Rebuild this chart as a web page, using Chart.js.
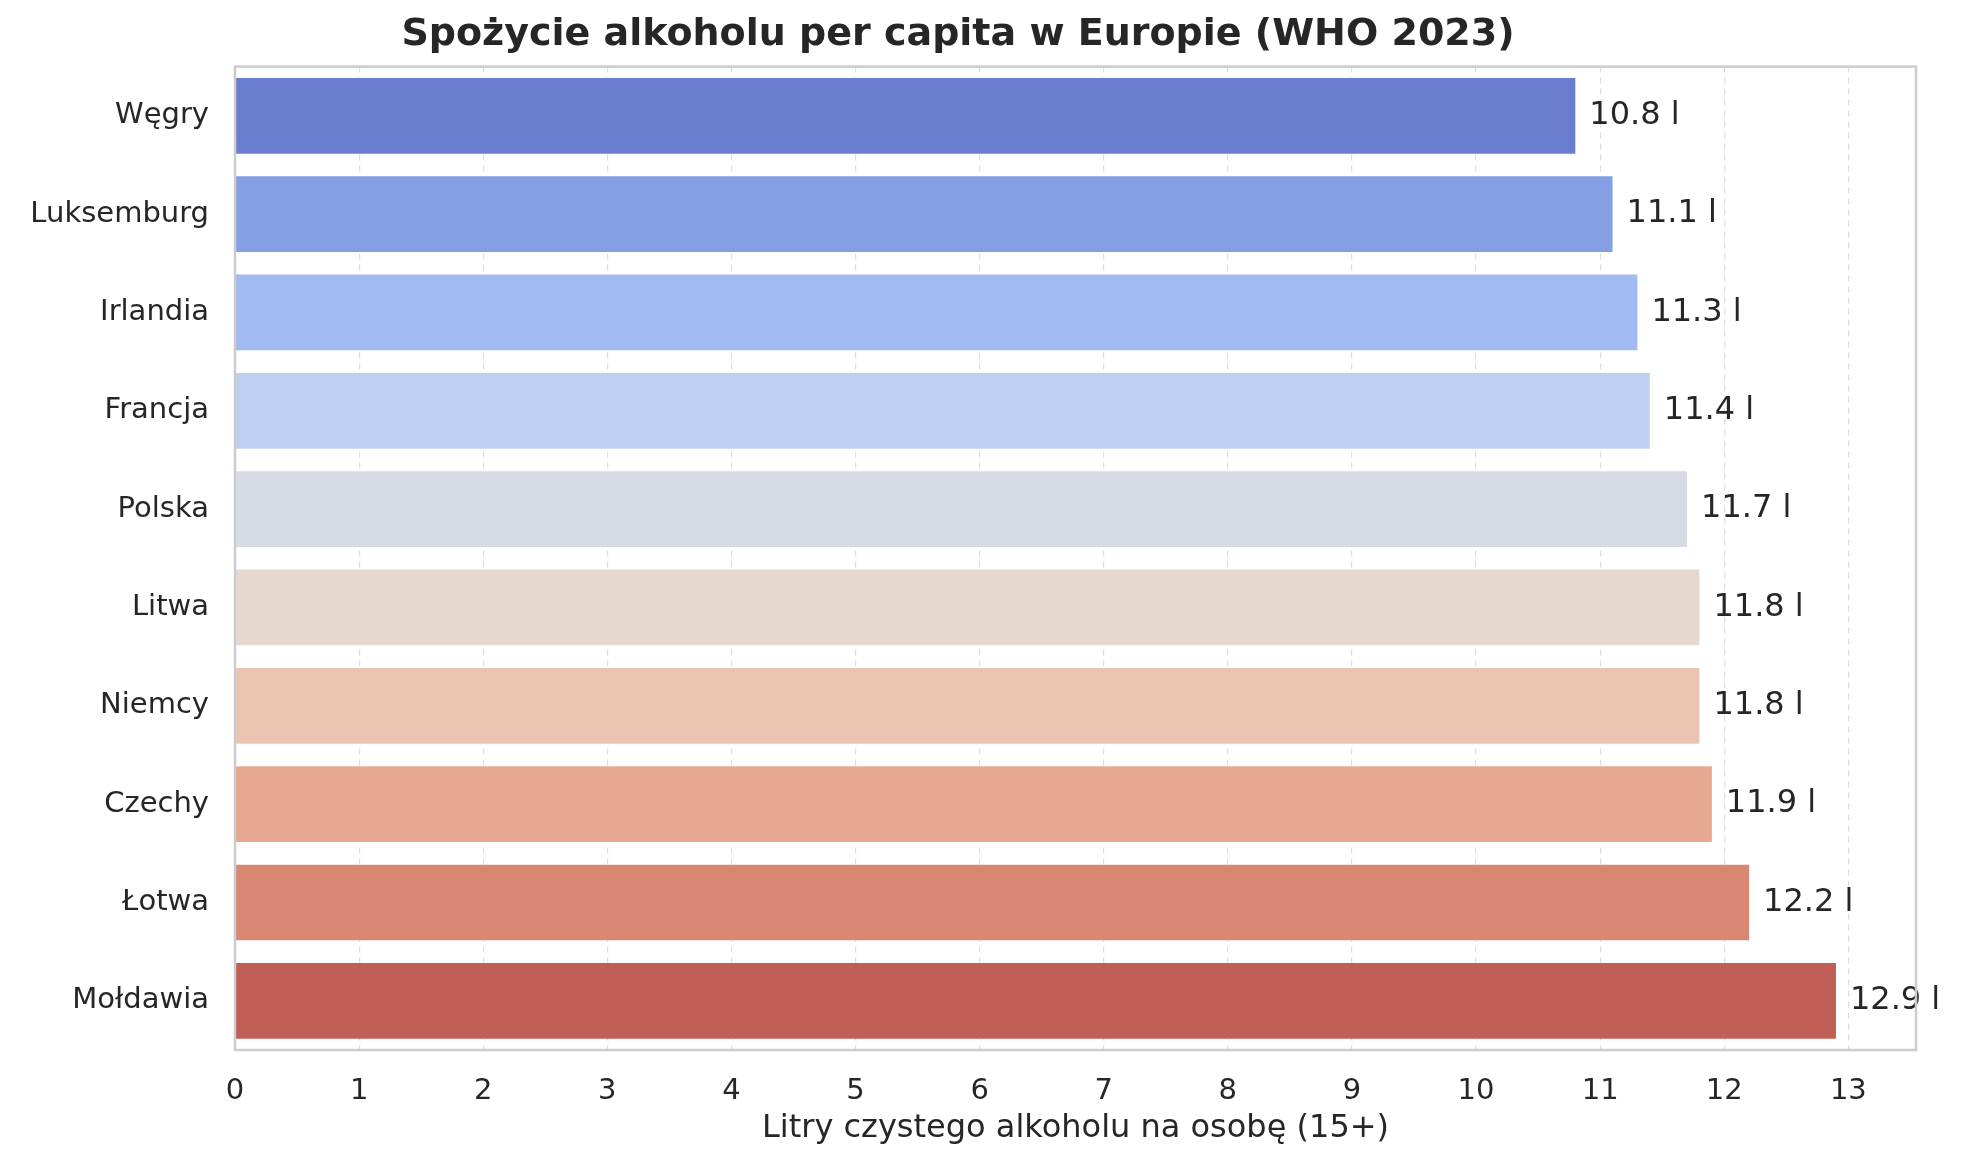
<!DOCTYPE html>
<html>
<head>
<meta charset="utf-8">
<script src="https://cdn.jsdelivr.net/npm/chart.js@4/dist/chart.umd.min.js"></script>
<style>
html, body { margin: 0; padding: 0; background: #fff; }
#wrap { width: 1962px; height: 1168px; }
</style>
</head>
<body>
<div id="wrap"><canvas id="chart"></canvas></div>
<script>
const countries = ["Węgry", "Luksemburg", "Irlandia", "Francja", "Polska", "Litwa", "Niemcy", "Czechy", "Łotwa", "Mołdawia"];
const liters = [10.8, 11.1, 11.3, 11.4, 11.7, 11.8, 11.8, 11.9, 12.2, 12.9];
const barColors = ["#6a7ed0", "#859fe4", "#a1baf2", "#bdd0f1", "#d6dbe6", "#e5d8cf", "#eac4b1", "#e7a891", "#d98673", "#c15e55"];
const xTicks = [0, 1, 2, 3, 4, 5, 6, 7, 8, 9, 10, 11, 12, 13];

const FONT = "'DejaVu Sans', sans-serif";
const TEXT = "#262626";

// frame around the plot + value labels
const framePlugin = {
    id: "frame",
    afterDatasetsDraw(chart) {
        const ctx = chart.ctx;
        const a = chart.chartArea;
        const meta = chart.getDatasetMeta(0);
        ctx.save();
        ctx.font = "32px " + FONT;
        ctx.fillStyle = TEXT;
        ctx.textBaseline = "middle";
        meta.data.forEach(function(bar, i){
            ctx.fillText(liters[i].toFixed(1) + " l", bar.x + 14, bar.y);
        });
        ctx.strokeStyle = "#cccccc";
        ctx.lineWidth = 2.5;
        ctx.strokeRect(a.left, a.top, a.right - a.left, a.bottom - a.top);
        ctx.restore();
    }
};

new Chart(document.getElementById("chart"), {
    type: "bar",
    data: {
        labels: countries,
        datasets: [{
            data: liters,
            backgroundColor: barColors,
            borderWidth: 0,
            categoryPercentage: 1,
            barPercentage: 0.77,
        }]
    },
    options: {
        indexAxis: "y",
        responsive: true,
        maintainAspectRatio: false,
        animation: false,
        devicePixelRatio: 1,
        layout: { padding: { left: 0, right: 46, top: 0, bottom: 16 } },
        plugins: {
            legend: { display: false },
            tooltip: { enabled: false },
            title: {
                display: true,
                text: "Spożycie alkoholu per capita w Europie (WHO 2023)",
                color: TEXT,
                font: { family: FONT, size: 38, weight: "bold" },
                padding: { top: 12, bottom: 9 },
            }
        },
        scales: {
            x: {
                min: 0,
                max: 13.545,
                afterBuildTicks: function(scale){
                    scale.ticks = xTicks.map(v => ({value: v}));
                },
                afterFit: function(scale){ scale.height = 102; },
                grid: {
                    color: "#dddddd",
                    lineWidth: 1.2,
                    drawTicks: false,
                },
                border: { display: false, dash: [6, 5] },
                ticks: {
                    color: TEXT,
                    padding: 24,
                    font: { family: FONT, size: 29 },
                    callback: v => String(v),
                },
                title: {
                    display: true,
                    text: "Litry czystego alkoholu na osobę (15+)",
                    color: TEXT,
                    font: { family: FONT, size: 32 },
                    padding: { top: 4 },
                }
            },
            y: {
                afterFit: function(scale){ scale.width = 235; },
                grid: { display: false, drawTicks: false },
                border: { display: false },
                ticks: {
                    color: TEXT,
                    padding: 26,
                    font: { family: FONT, size: 29 },
                }
            }
        }
    },
    plugins: [framePlugin]
});
</script>
</body>
</html>
